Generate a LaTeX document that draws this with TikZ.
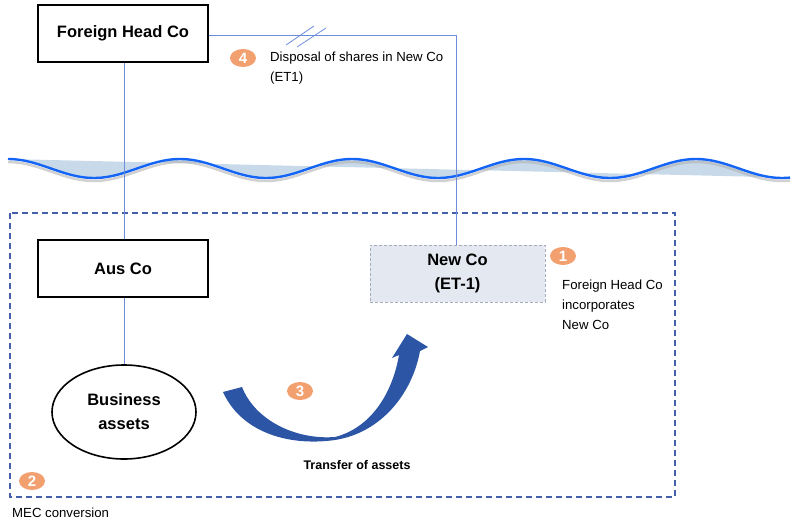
\documentclass[tikz,border=0pt]{standalone}
\usepackage{fontspec}
\setmainfont{Liberation Sans}
\usetikzlibrary{shapes.geometric}
\definecolor{linkblue}{RGB}{110,140,220}
\definecolor{wavec}{RGB}{20,100,245}
\definecolor{wavefillc}{RGB}{200,218,234}
\definecolor{framec}{RGB}{70,95,170}
\definecolor{badgec}{RGB}{242,160,112}
\definecolor{arrowc}{RGB}{45,85,165}
\definecolor{newfill}{RGB}{228,233,241}
\definecolor{newdraw}{RGB}{165,172,190}
\tikzset{
  entity/.style={draw=black, line width=1.6pt, minimum width=170pt, minimum height=57pt, align=center, font=\fontsize{16.5}{19}\selectfont\bfseries},
  link/.style={draw=linkblue, line width=0.8pt},
  badge/.style={ellipse, fill=badgec, text=white, inner sep=0pt, minimum width=26pt, minimum height=18pt, font=\fontsize{15}{15}\selectfont\bfseries},
  note/.style={font=\fontsize{13.2}{20}\selectfont, align=left, anchor=west, inner sep=0pt},
}
\begin{document}
\begin{tikzpicture}[x=1pt,y=-1pt]
\useasboundingbox (0,0) rectangle (795,525);
% wave
\fill[wavefillc] (8,159) -- plot[domain=8:790, samples=200, smooth] (\x, {168.5-9.5*cos(2.093*(\x-8))}) -- cycle;
\draw[black!30, line width=2.5pt, opacity=0.6] plot[domain=8:790, samples=200, smooth] (\x, {171.5-9.5*cos(2.093*(\x-8))});
\draw[wavec, line width=2.4pt] plot[domain=8:790, samples=200, smooth] (\x, {168.5-9.5*cos(2.093*(\x-8))});
% frame
\draw[framec, line width=1.3pt, dash pattern=on 6pt off 4pt] (10,213) rectangle (675,497);
% nodes
\node[entity] (fh) at (123,33.5) {Foreign Head Co};
\node[entity] (aus) at (123,268.5) {Aus Co};
\node[draw=black, line width=1.6pt, ellipse, minimum width=144pt, minimum height=94pt, align=center, font=\fontsize{16.5}{24}\selectfont\bfseries] (ba) at (124,412) {Business\\assets};
\node[draw=newdraw, fill=newfill, dash pattern=on 3pt off 2pt, line width=1pt, minimum width=175pt, minimum height=57pt, align=center, font=\fontsize{16.5}{24}\selectfont\bfseries] (nc) at (457.5,273.5) {New Co\\(ET-1)};
% connectors
\draw[link] (fh.south -| 124,0) -- (aus.north -| 124,0);
\draw[link] (aus.south -| 124,0) -- (ba.north);
\draw[link] (fh.east |- 0,35) -| (nc.north -| 456,0);
\coordinate (s1a) at (286,45); \coordinate (s1b) at (314,26);
\coordinate (s2a) at (297,47); \coordinate (s2b) at (326,28);
\draw[link] (s1a) -- (s1b);
\draw[link] (s2a) -- (s2b);
% labels
\node[badge] (b4) at (243,58) {4};
\node[note] (t4) at (270,68) {Disposal of shares in New Co\\(ET1)};
\node[badge] (b1) at (563,256) {1};
\node[note] (t1) at (562,305) {Foreign Head Co\\incorporates\\New Co};
\node[badge] (b2) at (32,481) {2};
\node[note] (t2) at (12,513) {MEC conversion};
% curved arrow
\fill[arrowc] (223,392) .. controls (240,430) and (285,447) .. (335,440)
  .. controls (380,433) and (412,395) .. (420,351)
  -- (428,347) -- (407,334) -- (392,358) -- (399,355)
  .. controls (392,395) and (370,428) .. (335,437)
  .. controls (295,440) and (255,420) .. (242,387) -- cycle;
\node[badge] (b3) at (300,391) {3};
\node[font=\fontsize{12.5}{14}\selectfont\bfseries] (t3) at (357,465) {Transfer of assets};
\end{tikzpicture}
\end{document}
